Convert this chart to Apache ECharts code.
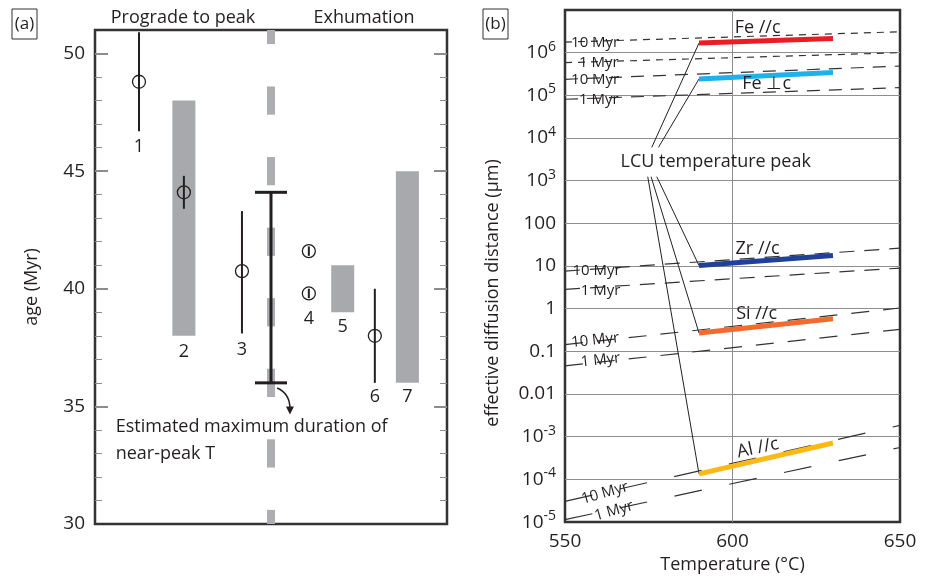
<!DOCTYPE html>
<html>
<head>
<meta charset="utf-8">
<script src="https://cdn.jsdelivr.net/npm/echarts@6/dist/echarts.min.js"></script>
<style>
html, body { margin: 0; padding: 0; background: #fff; }
#chart { width: 930px; height: 579px; }
</style>
</head>
<body>
<div id="chart"></div>
<script>
// ---- (a) ages ----
var sampleNames = ['1', '2', '3', '4', '5', '6', '7'];
var sampleX = [1, 2.02, 3.34, 4.86, 5.63, 6.36, 7.1];
var sampleNameAge = [46.05, 37.3, 37.4, 38.7, 38.4, 35.4, 35.4];
// point ages: [x, age, low, high]
var pointAges = [
  [1, 48.8, 46.7, 50.9],
  [2.02, 44.1, 43.4, 44.8],
  [3.34, 40.75, 38.1, 43.3],
  [4.86, 41.6, 41.4, 41.8],
  [4.86, 39.8, 39.6, 40.0],
  [6.36, 38.0, 36.0, 40.0]
];
// age ranges (gray bars): [x, low, high]
var ageRanges = [[2.02, 38, 48], [5.63, 39, 41], [7.1, 36, 45]];
// estimated max duration of near-peak T: [x, low, high]
var peakDuration = [[4, 36, 44.1]];
// pieces of the gray dashed peak line: [low, high]
var peakPieces = [[30, 30.6], [32.4, 33.6], [35.4, 36.6], [38.4, 39.6], [41.4, 42.6], [44.4, 45.6], [47.4, 48.6], [50.4, 51]];
var majorTicks = [35, 40, 45, 50];
var minorTicks = [31, 32, 33, 34, 36, 37, 38, 39, 41, 42, 43, 44, 46, 47, 48, 49, 50];

// ---- (b) diffusion distances (um) ----
var elements = ['Fe //c', 'Fe \u22a5c', 'Zr //c', 'Si //c', 'Al //c'];
var peakT = [590, 630];
var peakDist = [[1.68e6, 2.16e6], [2.42e5, 3.41e5], [10.3, 17.7], [0.27, 0.583], [1.35e-4, 7.13e-4]];
var rangeT = [550, 650];
var dist10Myr = [[1.77e6, 3.09e6], [2.38e5, 4.86e5], [7.64, 26.3], [0.144, 1.04], [3.06e-5, 1.85e-3]];
var dist1Myr = [[5.83e5, 1.0e6], [8.1e4, 1.52e5], [2.84, 8.97], [0.0457, 0.329], [1.14e-5, 5.6e-4]];

// styles
var ink = '#231f20';
var font = 'Open Sans';
var elementColors = ['#ed1c24', '#1fb1ec', '#21409a', '#f26a2e', '#fbb915'];
var dashes = [[7, 6], [13, 9], [15, 10], [18, 14], [28, 28]];

// annotation anchors (data coords): [T, value, rotate]
var myrAnchors = [
  [[559, 1.74e6, 0], [560.1, 5.78e5, 0]],
  [[559, 2.38e5, 0], [560.1, 8.1e4, 0]],
  [[559.4, 7.76, 0], [560.6, 2.69, 0]],
  [[559, 0.182, 6], [560.6, 0.0621, 6]],
  [[561.9, 4.8e-5, 16], [564.6, 1.82e-5, 16]]
];
var elementAnchors = [[607.5, 3.9e6, 0], [610.2, 1.82e5, 0], [607.5, 25.4, 0], [607.2, 0.766, 0], [607.6, 5.44e-4, 12]];
var leaderStart = [[575.9, 6.04e3], [577.9, 6.04e3], [577.4, 1.24e3], [575.7, 1.24e3], [574.7, 1.24e3]];

var chart = echarts.init(document.getElementById('chart'));
var series = [];
var plainLabel = { textBorderWidth: 0, textBorderColor: 'transparent', color: ink, fontFamily: font };
// scatter fades its items by default, keep text and circles solid
var solidItem = { color: 'rgba(0,0,0,0)', opacity: 1 };

// gray age ranges
series.push({
  type: 'custom', xAxisIndex: 0, yAxisIndex: 0, silent: true, data: ageRanges,
  renderItem: function (params, api) {
    var hi = api.coord([api.value(0), api.value(2)]);
    var lo = api.coord([api.value(0), api.value(1)]);
    return { type: 'rect', shape: { x: hi[0] - 11.5, y: hi[1], width: 23, height: lo[1] - hi[1] }, style: { fill: '#a7a9ac' } };
  }
});
// gray dashed peak line
series.push({
  type: 'custom', xAxisIndex: 0, yAxisIndex: 0, silent: true,
  data: peakPieces.map(function (p) { return [4, p[0], p[1]]; }),
  renderItem: function (params, api) {
    var hi = api.coord([api.value(0), api.value(2)]);
    var lo = api.coord([api.value(0), api.value(1)]);
    return { type: 'rect', shape: { x: hi[0] - 4, y: hi[1], width: 8, height: lo[1] - hi[1] }, style: { fill: '#acaeb1' } };
  }
});
// error bars
series.push({
  type: 'custom', xAxisIndex: 0, yAxisIndex: 0, silent: true,
  data: pointAges.map(function (p) { return [p[0], p[2], p[3]]; }),
  renderItem: function (params, api) {
    var hi = api.coord([api.value(0), api.value(2)]);
    var lo = api.coord([api.value(0), api.value(1)]);
    return { type: 'line', shape: { x1: lo[0], y1: lo[1], x2: hi[0], y2: hi[1] }, style: { stroke: ink, lineWidth: 2 } };
  }
});
// duration bar with caps
series.push({
  type: 'custom', xAxisIndex: 0, yAxisIndex: 0, silent: true, data: peakDuration,
  renderItem: function (params, api) {
    var hi = api.coord([api.value(0), api.value(2)]);
    var lo = api.coord([api.value(0), api.value(1)]);
    var st = { stroke: ink, lineWidth: 3 };
    return { type: 'group', children: [
      { type: 'line', shape: { x1: lo[0], y1: lo[1], x2: hi[0], y2: hi[1] }, style: st },
      { type: 'line', shape: { x1: lo[0] - 16, y1: lo[1], x2: lo[0] + 16, y2: lo[1] }, style: st },
      { type: 'line', shape: { x1: hi[0] - 16, y1: hi[1], x2: hi[0] + 16, y2: hi[1] }, style: st }
    ] };
  }
});
// curved arrow under the bar
series.push({
  type: 'custom', xAxisIndex: 0, yAxisIndex: 0, silent: true, data: [[4.14, 35.78, 4.43, 34.7]],
  renderItem: function (params, api) {
    var a = api.coord([api.value(0), api.value(1)]);
    var b = api.coord([api.value(2), api.value(3)]);
    return { type: 'group', children: [
      { type: 'bezierCurve', shape: { x1: a[0], y1: a[1], x2: b[0], y2: b[1] - 5, cpx1: a[0] + 9, cpy1: a[1] + 4, cpx2: b[0], cpy2: b[1] - 14 }, style: { stroke: ink, lineWidth: 1.5, fill: null } },
      { type: 'polygon', shape: { points: [[b[0] - 4, b[1] - 7], [b[0] + 4, b[1] - 7], [b[0], b[1] + 1]] }, style: { fill: ink } }
    ] };
  }
});
// circles
series.push({
  type: 'scatter', xAxisIndex: 0, yAxisIndex: 0, silent: true, symbol: 'circle', symbolSize: 13,
  data: pointAges.map(function (p) { return [p[0], p[1]]; }),
  itemStyle: { color: 'rgba(0,0,0,0)', opacity: 1, borderColor: ink, borderWidth: 1.3 }
});
// sample numbers
series.push({
  type: 'scatter', xAxisIndex: 0, yAxisIndex: 0, silent: true, symbolSize: 0, itemStyle: solidItem,
  data: sampleNames.map(function (n, i) { return [sampleX[i], sampleNameAge[i], n]; }),
  label: Object.assign({ show: true, position: 'inside', fontSize: 18, formatter: function (p) { return p.value[2]; } }, plainLabel)
});
series.push({
  type: 'scatter', xAxisIndex: 0, yAxisIndex: 0, silent: true, symbolSize: 0, itemStyle: solidItem,
  data: [[0.47, 33.55]],
  label: Object.assign({ show: true, position: 'inside', align: 'left', verticalAlign: 'middle', lineHeight: 26.7, fontSize: 18,
    formatter: 'Estimated maximum duration of\nnear-peak T' }, plainLabel)
});

// ---- (b) lines ----
elements.forEach(function (name, i) {
  [dist10Myr, dist1Myr].forEach(function (d) {
    series.push({
      type: 'line', xAxisIndex: 1, yAxisIndex: 4, silent: true, symbol: 'none',
      data: [[rangeT[0], d[i][0]], [rangeT[1], d[i][1]]],
      lineStyle: { color: '#333', width: 1.2, type: dashes[i] }
    });
  });
  // leader from the peak label
  series.push({
    type: 'line', xAxisIndex: 1, yAxisIndex: 4, silent: true, symbol: 'none',
    data: [leaderStart[i], [peakT[0], peakDist[i][0]]],
    lineStyle: { color: ink, width: 1 }
  });
  series.push({
    type: 'line', xAxisIndex: 1, yAxisIndex: 4, silent: true, symbol: 'none', z: 5,
    data: [[peakT[0], peakDist[i][0]], [peakT[1], peakDist[i][1]]],
    lineStyle: { color: elementColors[i], width: 5, cap: 'butt' }
  });
});
// text in (b)
var notes = [];
myrAnchors.forEach(function (pair) {
  pair.forEach(function (a, k) {
    notes.push({ value: [a[0], a[1]], label: { formatter: k === 0 ? '10 Myr' : '1 Myr', rotate: a[2], fontSize: 15 } });
  });
});
elementAnchors.forEach(function (a, i) {
  notes.push({ value: [a[0], a[1]], label: { formatter: elements[i], rotate: a[2] } });
});
notes.push({ value: [595, 2.7e3], label: { formatter: 'LCU temperature peak' } });
series.push({
  type: 'scatter', xAxisIndex: 1, yAxisIndex: 4, silent: true, symbolSize: 0, z: 6, data: notes, itemStyle: solidItem,
  label: Object.assign({ show: true, position: 'inside', fontSize: 18 }, plainLabel)
});

var supLabels = { '-2': '0.01', '-1': '0.1', '0': '1', '1': '10', '2': '100' };
var tickStyle = function (len, w) { return { inside: true, length: len, lineStyle: { color: '#8c8c8c', width: w } }; };

chart.setOption({
  animation: false,
  textStyle: { fontFamily: font },
  grid: [
    { left: 95, top: 30, width: 352, height: 494, show: true, borderColor: '#333', borderWidth: 2.5, backgroundColor: 'transparent' },
    { left: 565, top: 10, width: 335, height: 514, show: true, borderColor: '#333', borderWidth: 2.5, backgroundColor: 'transparent' }
  ],
  xAxis: [
    { gridIndex: 0, type: 'value', min: 0, max: 8, show: false },
    { gridIndex: 1, type: 'value', min: rangeT[0], max: rangeT[1], interval: 50,
      axisLine: { show: false }, axisTick: { show: false },
      axisLabel: { color: ink, fontSize: 19, fontFamily: font, margin: 10 },
      splitLine: { show: true, showMinLine: false, showMaxLine: false, lineStyle: { color: '#8e8e8e', width: 1 } },
      name: 'Temperature (\u00b0C)', nameLocation: 'middle', nameGap: 33,
      nameTextStyle: { color: ink, fontSize: 18, fontFamily: font } }
  ],
  yAxis: [
    { gridIndex: 0, type: 'value', min: 30, max: 51, interval: 5, position: 'left',
      axisLine: { show: false }, splitLine: { show: false },
      axisTick: Object.assign(tickStyle(13, 2), { customValues: majorTicks }),
      axisLabel: { showMaxLabel: false, color: ink, fontSize: 19, fontFamily: font, margin: 10 } },
    { gridIndex: 0, type: 'value', min: 30, max: 51, interval: 1, position: 'left',
      axisLine: { show: false }, splitLine: { show: false }, axisLabel: { show: false },
      axisTick: Object.assign(tickStyle(7, 1), { customValues: minorTicks }) },
    { gridIndex: 0, type: 'value', min: 30, max: 51, interval: 5, position: 'right',
      axisLine: { show: false }, splitLine: { show: false }, axisLabel: { show: false },
      axisTick: Object.assign(tickStyle(13, 2), { customValues: majorTicks }) },
    { gridIndex: 0, type: 'value', min: 30, max: 51, interval: 1, position: 'right',
      axisLine: { show: false }, splitLine: { show: false }, axisLabel: { show: false },
      axisTick: Object.assign(tickStyle(7, 1), { customValues: minorTicks }) },
    { gridIndex: 1, type: 'log', logBase: 10, min: 1e-5, max: 1e7, interval: 1,
      axisLine: { show: false }, axisTick: { show: false },
      splitLine: { show: true, showMinLine: false, showMaxLine: false, lineStyle: { color: '#8e8e8e', width: 1 } },
      axisLabel: {
        showMaxLabel: false, color: ink, fontSize: 19, fontFamily: font, margin: 9, lineHeight: 26,
        formatter: function (v) {
          var e = Math.round(Math.log10(v));
          if (supLabels[e] !== undefined) return supLabels[e];
          return '10{sup|' + e + '}';
        },
        rich: { sup: { fontSize: 14, lineHeight: 14, verticalAlign: 'top', fontFamily: font, color: ink } }
      } }
  ],
  graphic: [
    { type: 'rect', shape: { x: 12, y: 9, width: 25, height: 30 }, style: { fill: 'none', stroke: '#333', lineWidth: 1 } },
    { type: 'text', x: 24.5, y: 24, style: { text: '(a)', fontSize: 17, fontFamily: font, fill: ink, align: 'center', verticalAlign: 'middle' } },
    { type: 'rect', shape: { x: 483, y: 9, width: 25, height: 30 }, style: { fill: 'none', stroke: '#333', lineWidth: 1 } },
    { type: 'text', x: 495.5, y: 24, style: { text: '(b)', fontSize: 17, fontFamily: font, fill: ink, align: 'center', verticalAlign: 'middle' } },
    { type: 'text', x: 183, y: 18, style: { text: 'Prograde to peak', fontSize: 18, fontFamily: font, fill: ink, align: 'center', verticalAlign: 'middle' } },
    { type: 'text', x: 364, y: 18, style: { text: 'Exhumation', fontSize: 18, fontFamily: font, fill: ink, align: 'center', verticalAlign: 'middle' } },
    { type: 'text', x: 32, y: 287, rotation: Math.PI / 2, style: { text: 'age (Myr)', fontSize: 18, fontFamily: font, fill: ink, align: 'center', verticalAlign: 'middle' } },
    { type: 'text', x: 493, y: 293, rotation: Math.PI / 2, style: { text: 'effective diffusion distance (\u00b5m)', fontSize: 18, fontFamily: font, fill: ink, align: 'center', verticalAlign: 'middle' } }
  ],
  series: series
});
</script>
</body>
</html>
